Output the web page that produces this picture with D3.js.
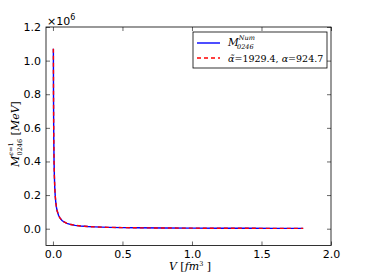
<!DOCTYPE html>
<head>
<meta charset="utf-8">
<script src="https://d3js.org/d3.v7.min.js"></script>
<style>
  body { margin: 0; background: #fff; }
  .tick text { font: 11px "DejaVu Sans", sans-serif; fill: #000; }
  .math { font-family: "DejaVu Serif", serif; font-style: italic; fill: #000; }
  .rm { font-style: normal; }
</style>
</head>
<body>
<script>
// data (M in units of 1e6 MeV)
const volumes = [0.003, 0.004, 0.005, 0.006, 0.008, 0.010, 0.013, 0.016, 0.020, 0.025, 0.030, 0.040,
  0.050, 0.065, 0.080, 0.100, 0.130, 0.160, 0.200, 0.250, 0.300, 0.400, 0.500, 0.600, 0.800,
  1.000, 1.200, 1.400, 1.600, 1.800];
const mNum = [1.070, 0.800, 0.640, 0.533, 0.400, 0.320, 0.246, 0.200, 0.160, 0.128, 0.107, 0.080,
  0.064, 0.049, 0.040, 0.032, 0.0246, 0.020, 0.016, 0.0128, 0.0107, 0.008, 0.0064, 0.0053, 0.0040,
  0.0032, 0.0027, 0.0023, 0.0020, 0.0018];
const mFit = mNum.slice();
const xTicks = [0.0, 0.5, 1.0, 1.5, 2.0];
const yTicks = [0.0, 0.2, 0.4, 0.6, 0.8, 1.0, 1.2];
const fitParams = ["1929.4", "924.7"];

const W = 367, H = 273;
const mLeft = 46, mRight = 331, mTop = 27, mBottom = 245.5;

const svg = d3.select("body").append("svg").attr("width", W).attr("height", H);

const x = d3.scaleLinear().domain([-0.05, 2.0]).range([mLeft, mRight]);
const y = d3.scaleLinear().domain([-0.1, 1.2]).range([mBottom, mTop]);

// axes with inward ticks on all sides
function styleAxis(g) {
  g.select(".domain").remove();
  g.selectAll(".tick line").attr("stroke", "#000").attr("stroke-width", 0.6);
}
svg.append("g").attr("transform", `translate(0,${mBottom})`)
  .call(d3.axisBottom(x).tickValues(xTicks).tickFormat(d3.format(".1f")).tickSizeInner(-4).tickPadding(5))
  .call(styleAxis);
svg.append("g").attr("transform", `translate(0,${mTop})`)
  .call(d3.axisTop(x).tickValues(xTicks).tickFormat("").tickSizeInner(-4))
  .call(styleAxis);
svg.append("g").attr("transform", `translate(${mLeft},0)`)
  .call(d3.axisLeft(y).tickValues(yTicks).tickFormat(d3.format(".1f")).tickSizeInner(-4).tickPadding(5))
  .call(styleAxis);
svg.append("g").attr("transform", `translate(${mRight},0)`)
  .call(d3.axisRight(y).tickValues(yTicks).tickFormat("").tickSizeInner(-4))
  .call(styleAxis);

svg.append("rect").attr("x", mLeft).attr("y", mTop)
  .attr("width", mRight - mLeft).attr("height", mBottom - mTop)
  .attr("fill", "none").attr("stroke", "#000").attr("stroke-width", 0.8);

// curves
const line = d3.line().x(d => x(d[0])).y(d => y(d[1]));
svg.append("path").datum(volumes.map((v, i) => [v, mNum[i]]))
  .attr("d", line).attr("fill", "none").attr("stroke", "#0000ff").attr("stroke-width", 1.4);
svg.append("path").datum(volumes.map((v, i) => [v, mFit[i]]))
  .attr("d", line).attr("fill", "none").attr("stroke", "#ff0000").attr("stroke-width", 1.4)
  .attr("stroke-dasharray", "4,3");

// offset text x10^6
const off = svg.append("text").attr("x", mLeft + 1).attr("y", mTop - 2)
  .attr("font-family", "DejaVu Sans, sans-serif").attr("font-size", 11);
off.append("tspan").text("×10");
off.append("tspan").attr("font-size", 8).attr("dy", -5).text("6");

// legend
const lg = svg.append("g");
lg.append("rect").attr("x", 193).attr("y", 32).attr("width", 134).attr("height", 36)
  .attr("fill", "#fff").attr("stroke", "#000").attr("stroke-width", 0.8);
lg.append("line").attr("x1", 197).attr("x2", 220).attr("y1", 43).attr("y2", 43)
  .attr("stroke", "#0000ff").attr("stroke-width", 1.4);
lg.append("line").attr("x1", 197).attr("x2", 220).attr("y1", 58).attr("y2", 58)
  .attr("stroke", "#ff0000").attr("stroke-width", 1.4).attr("stroke-dasharray", "4,3");
const l1 = lg.append("text").attr("class", "math").attr("x", 228).attr("y", 46).attr("font-size", 10.5);
l1.append("tspan").text("M");
l1.append("tspan").attr("font-size", 6.5).attr("dy", -6).text("Num");
l1.append("tspan").attr("font-size", 6.5).attr("x", 237).attr("dy", 9).text("0246");
const l2 = lg.append("text").attr("class", "math").attr("x", 228).attr("y", 62).attr("font-size", 9.5);
l2.append("tspan").text("α\u0303");
l2.append("tspan").attr("class", "rm").text("=" + fitParams[0] + ",");
l2.append("tspan").text(" α");
l2.append("tspan").attr("class", "rm").text("=" + fitParams[1]);

// x label
const xl = svg.append("text").attr("class", "math").attr("x", 190).attr("y", 270)
  .attr("text-anchor", "middle").attr("font-size", 11);
xl.append("tspan").text("V ");
xl.append("tspan").attr("class", "rm").text("[");
xl.append("tspan").text("fm");
xl.append("tspan").attr("class", "rm").attr("font-size", 6.5).attr("dy", -4).text("3");
xl.append("tspan").attr("class", "rm").attr("dy", 4).text(" ]");

// y label
const yl = svg.append("text").attr("class", "math")
  .attr("transform", "translate(19,134) rotate(-90)")
  .attr("text-anchor", "middle").attr("font-size", 11);
yl.append("tspan").text("M");
yl.append("tspan").attr("font-size", 6.5).attr("dy", -6).text("ϵ");
yl.append("tspan").attr("class", "rm").attr("font-size", 6.5).text("=1");
yl.append("tspan").attr("class", "rm").attr("font-size", 6.5).attr("dx", -13).attr("dy", 9).text("0246");
yl.append("tspan").attr("class", "rm").attr("dy", -3).text("  [");
yl.append("tspan").text("MeV");
yl.append("tspan").attr("class", "rm").text("]");
</script>
</body>
</html>
